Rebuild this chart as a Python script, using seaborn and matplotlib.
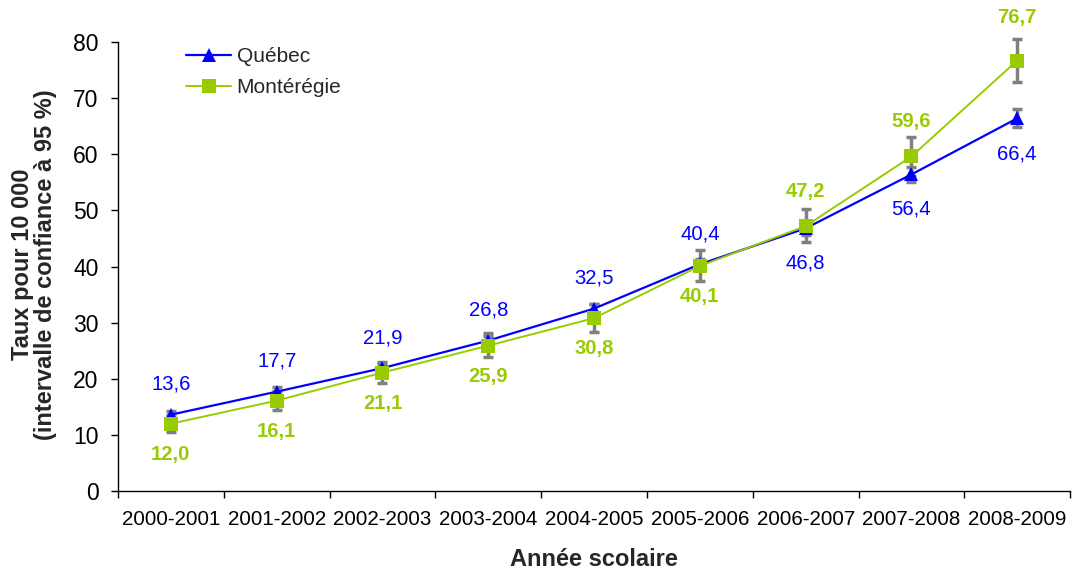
import numpy as np
import pandas as pd
import matplotlib
matplotlib.use("Agg")
import matplotlib.pyplot as plt
import seaborn as sns

years = ["2000-2001", "2001-2002", "2002-2003", "2003-2004", "2004-2005",
         "2005-2006", "2006-2007", "2007-2008", "2008-2009"]
quebec = [13.6, 17.7, 21.9, 26.8, 32.5, 40.4, 46.8, 56.4, 66.4]
quebec_lo = [12.9, 17.0, 21.1, 26.0, 31.6, 39.4, 45.6, 55.0, 64.8]
quebec_hi = [14.3, 18.5, 22.7, 27.6, 33.4, 41.4, 48.0, 57.8, 68.0]
monteregie = [12.0, 16.1, 21.1, 25.9, 30.8, 40.1, 47.2, 59.6, 76.7]
monteregie_lo = [10.5, 14.5, 19.3, 23.8, 28.4, 37.5, 44.3, 56.2, 72.9]
monteregie_hi = [13.6, 17.9, 23.0, 28.1, 33.3, 43.0, 50.3, 63.0, 80.6]
series_names = ["Québec", "Montérégie"]

# label offsets (points) relative to each marker: layout only
q_label_dy = [22, 22, 22, 22, 22, 22, -25, -25, -26]
m_label_dy = [-22, -22, -22, -22, -22, -22, 25, 25, 31]

sns.set_theme(style="white")
plt.rcParams['font.family'] = ['Liberation Sans', 'DejaVu Sans']

BLUE = "#0000FF"
GREEN = "#99CC00"
GRAY = "#808080"

fig = plt.figure(figsize=(10.76, 5.73), dpi=100)
ax = fig.add_axes([0.1097, 0.1431, 0.8848, 0.7836])

pos = np.arange(len(years))
df = pd.DataFrame({
    "pos": np.concatenate([pos, pos]),
    "val": quebec + monteregie,
    "serie": [series_names[0]] * len(years) + [series_names[1]] * len(years),
})

for vals, lo, hi in [(quebec, quebec_lo, quebec_hi), (monteregie, monteregie_lo, monteregie_hi)]:
    v = np.array(vals)
    eb = ax.errorbar(pos, v, yerr=[v - np.array(lo), np.array(hi) - v],
                     fmt="none", ecolor=GRAY, elinewidth=2.5, capsize=3.8, capthick=2.5, zorder=2)
    for art in eb.lines[1]:
        art.set_clip_on(False)
    for art in eb.lines[2]:
        art.set_clip_on(False)

sns.lineplot(data=df, x="pos", y="val", hue="serie", style="serie",
             palette={series_names[0]: BLUE, series_names[1]: GREEN},
             markers={series_names[0]: "^", series_names[1]: "s"},
             dashes=False, markersize=10, markeredgewidth=0,
             ax=ax, zorder=3, legend=True)

for l in ax.lines:
    c = matplotlib.colors.to_hex(l.get_color()).lower()
    if c == BLUE.lower():
        l.set_linewidth(1.6)
    elif c == GREEN.lower():
        l.set_linewidth(1.4)
    l.set_clip_on(False)

for i, (q, m) in enumerate(zip(quebec, monteregie)):
    qtxt = f"{q:.1f}".replace(".", ",")
    mtxt = f"{m:.1f}".replace(".", ",")
    ax.annotate(qtxt, (pos[i], q), xytext=(0, q_label_dy[i]), textcoords="offset points",
                ha="center", va="center", color=BLUE, fontsize=14.6, annotation_clip=False)
    ax.annotate(mtxt, (pos[i], m), xytext=(0, m_label_dy[i]), textcoords="offset points",
                ha="center", va="center", color=GREEN, fontsize=14.6, fontweight="bold",
                annotation_clip=False)

ax.set_xlim(-0.5, len(years) - 0.5)
ax.set_ylim(0, 80)
ax.set_yticks(np.arange(0, 81, 10))
ax.set_xticks(pos)
ax.set_xticklabels(years, fontsize=14.8)
ax.set_xticks(np.arange(-0.5, len(years), 1.0), minor=True)
ax.tick_params(axis="x", which="major", length=0, pad=14, colors="black")
ax.tick_params(axis="x", which="minor", length=5, width=1, direction="out", color="black", bottom=True)
ax.tick_params(axis="y", which="major", length=5, width=1, direction="out", left=True, pad=9,
               labelsize=16.5, colors="black")

for s in ["top", "right"]:
    ax.spines[s].set_visible(False)
for s in ["left", "bottom"]:
    ax.spines[s].set_color("black")
    ax.spines[s].set_linewidth(1)

ax.set_xlabel("Année scolaire", fontsize=17, fontweight="bold")
ax.xaxis.set_label_coords(0.5, -0.128)
ax.set_ylabel("Taux pour 10 000\n(intervalle de confiance à 95 %)", fontsize=17,
              fontweight="bold", linespacing=1.0)
ax.yaxis.set_label_coords(-0.064, 0.505)

leg = ax.legend(loc="upper left", bbox_to_anchor=(0.052, 1.03), frameon=False,
                fontsize=15, handlelength=2.16, handletextpad=0.25, labelspacing=0.58,
                title=None)
for h in leg.legend_handles:
    h.set_markeredgewidth(0)

fig.savefig("out.png", dpi=100)
